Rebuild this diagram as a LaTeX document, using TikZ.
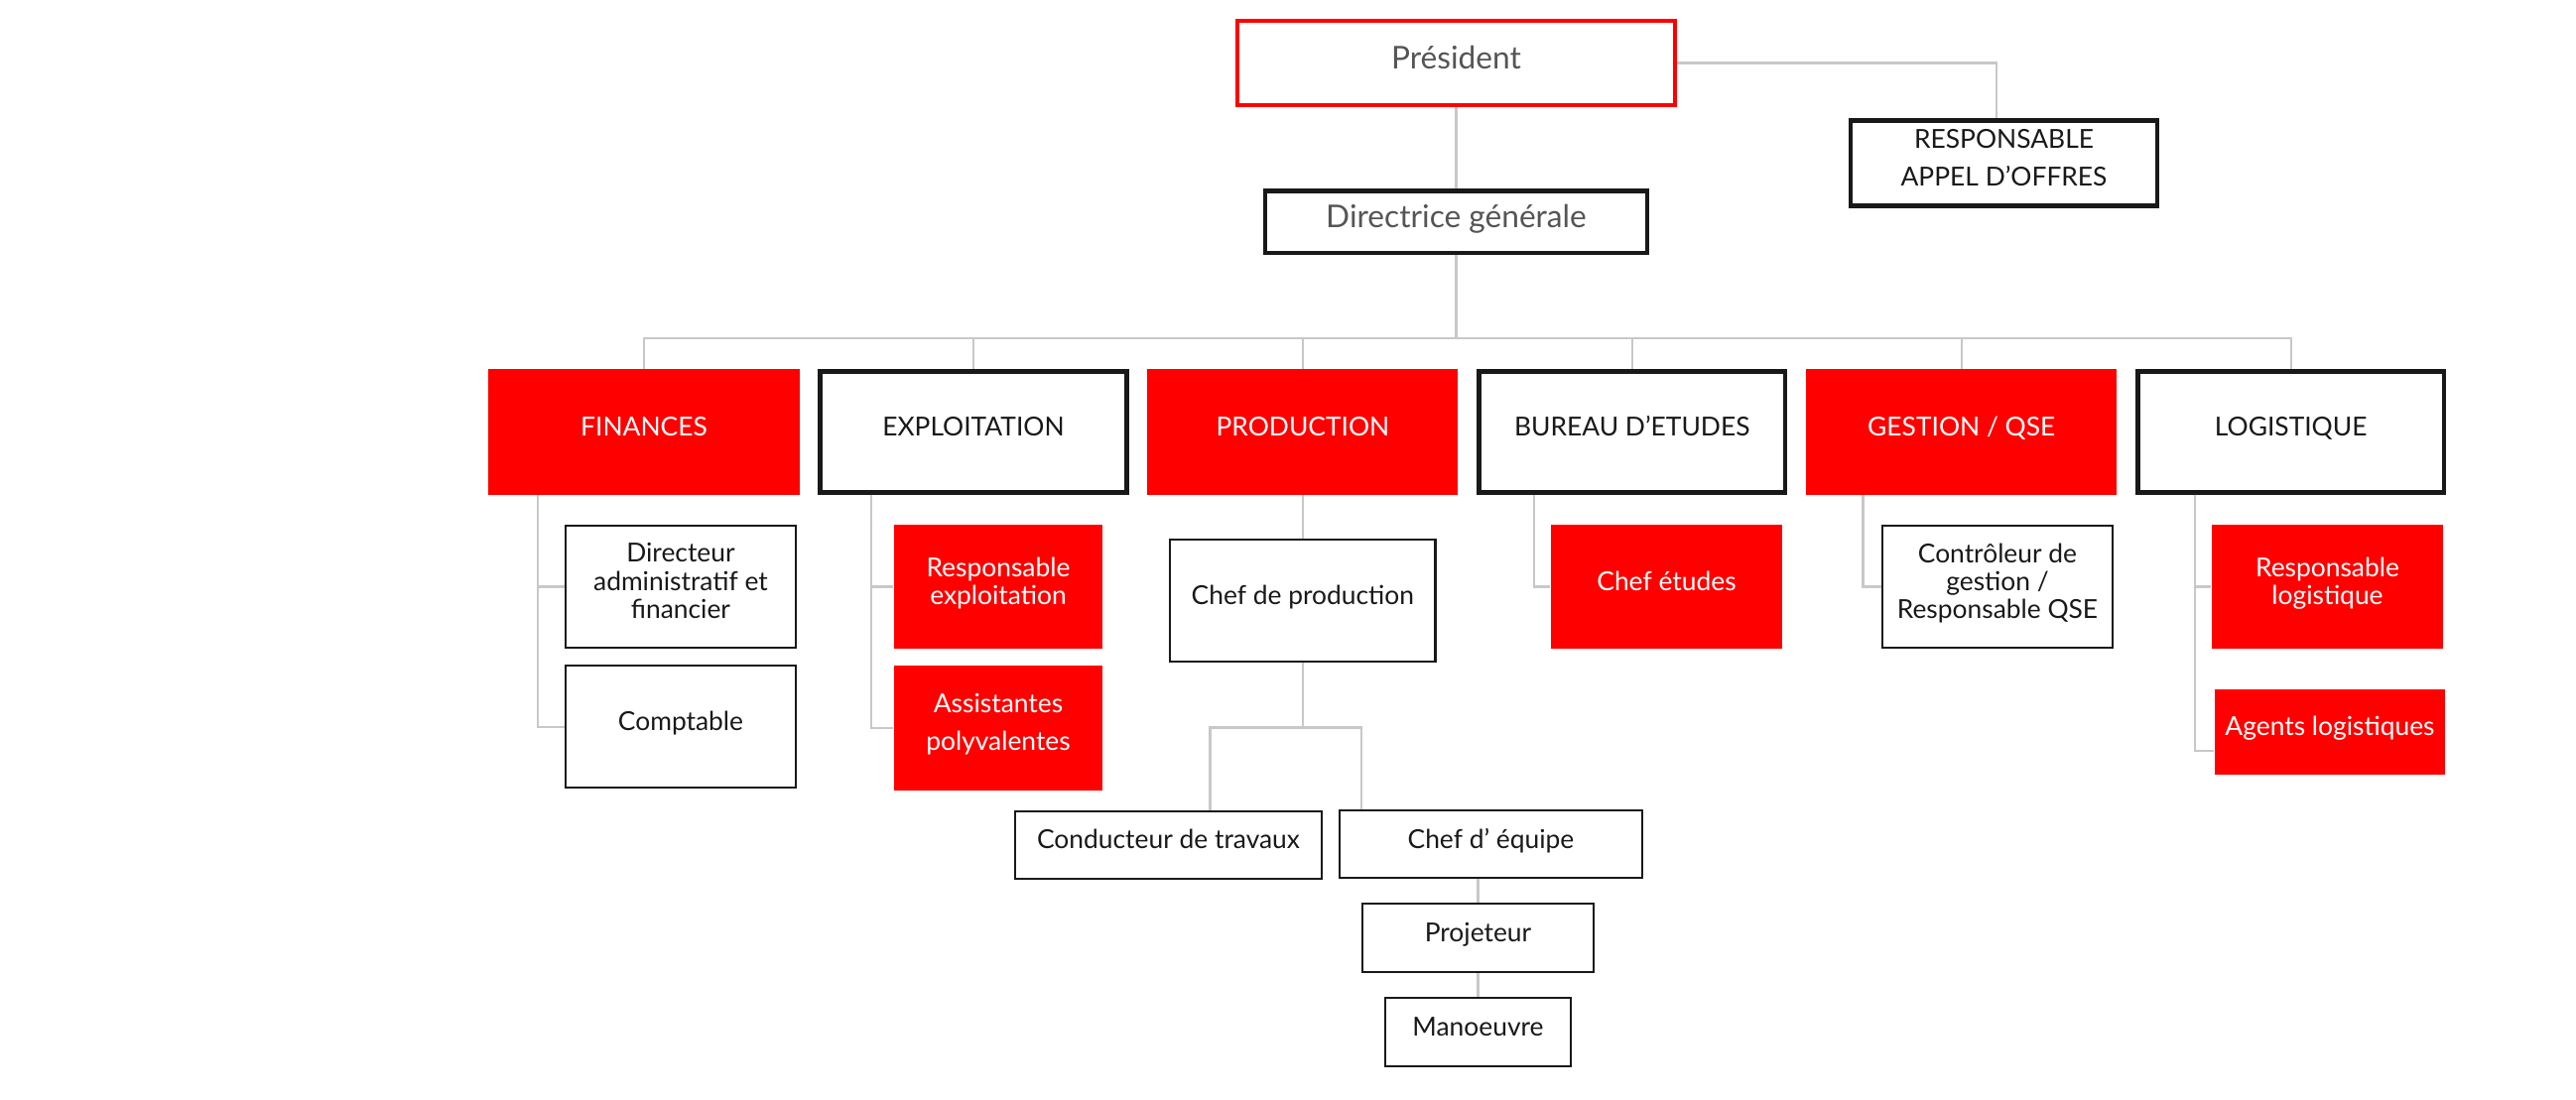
\documentclass[tikz,border=0pt]{standalone}
\usepackage{fontspec}
\setmainfont{Lato}
\usetikzlibrary{positioning}
\definecolor{orgred}{RGB}{255,0,0}
\definecolor{linegray}{RGB}{200,200,200}
\definecolor{textgray}{RGB}{85,85,85}
\definecolor{boxblack}{RGB}{25,25,25}

\begin{document}
\begin{tikzpicture}[x=0.01cm, y=-0.01cm, inner sep=2pt, text depth=0.12cm,
    link/.style={draw=linegray, line width=0.6pt},
    headbox/.style={draw=boxblack, line width=1.3pt, align=center, text=textgray, font=\fontsize{9}{10}\selectfont},
    deptred/.style={fill=orgred, text=white, minimum width=3.13cm, minimum height=1.26cm, font=\fontsize{7.5}{9}\selectfont},
    deptwhite/.style={draw=boxblack, line width=1.3pt, fill=white, text=boxblack, minimum width=3.085cm, minimum height=1.215cm, font=\fontsize{7.5}{9}\selectfont},
    postred/.style={fill=orgred, text=white, align=center, minimum height=1.25cm, font=\fontsize{7.5}{8}\selectfont},
    postwhite/.style={draw=boxblack, line width=0.6pt, text=boxblack, align=center, minimum height=1.23cm, font=\fontsize{7.5}{8}\selectfont}]
  \useasboundingbox (0,0) rectangle (2596,1109);

  % Direction
  \node[headbox, draw=orgred, line width=1.15pt, minimum width=4.41cm, minimum height=0.85cm] (president) at (1467.5,63.5) {Président};
  \node[headbox, minimum width=3.845cm, minimum height=0.625cm, below=0.82cm of president] (directrice) {Directrice générale};
  \node[headbox, text=boxblack, font=\fontsize{7.5}{9}\selectfont, minimum width=3.085cm, minimum height=0.865cm] (appel) at (2019.5,164.5) {RESPONSABLE\\[1.8pt]APPEL D’OFFRES};

  % Services
  \node[deptred] (finances) at (649,435.5) {FINANCES};
  \node[deptwhite, right=0.18cm of finances] (exploitation) {EXPLOITATION};
  \node[deptred, right=0.18cm of exploitation] (production) {PRODUCTION};
  \node[deptwhite, right=0.18cm of production] (bureau) {BUREAU D’ETUDES};
  \node[deptred, right=0.18cm of bureau] (gestion) {GESTION / QSE};
  \node[deptwhite, right=0.18cm of gestion] (logistique) {LOGISTIQUE};

  % Postes
  \node[postwhite, minimum width=2.32cm] (directeur) at (686,591.5) {Directeur\\administratif et\\financier};
  \node[postwhite, minimum width=2.32cm, below=0.16cm of directeur] (comptable) {Comptable};
  \node[postred, minimum width=2.10cm] (respexpl) at (1006,591.5) {Responsable\\exploitation};
  \node[postred, minimum width=2.10cm, below=0.16cm of respexpl] (assistantes) {Assistantes\\[2.8pt]polyvalentes};
  \node[postwhite, minimum width=2.67cm, below=0.44cm of production] (chefprod) {Chef de production};
  \node[postred, minimum width=2.33cm] (chefetudes) at (1679.5,591.5) {Chef études};
  \node[postwhite, minimum width=2.32cm] (controleur) at (2013,591.5) {Contrôleur de\\gestion /\\Responsable QSE};
  \node[postred, minimum width=2.33cm] (resplog) at (2345.5,591.5) {Responsable\\logistique};
  \node[postred, minimum width=2.32cm, minimum height=0.86cm] (agents) at (2348,738) {Agents logistiques};

  % Production
  \node[postwhite, minimum width=3.09cm, minimum height=0.68cm] (conducteur) at (1177.5,852) {Conducteur de travaux};
  \node[postwhite, minimum width=3.05cm, minimum height=0.68cm] (chefequipe) at (1502.5,851) {Chef d’ équipe};
  \node[postwhite, minimum width=2.33cm, minimum height=0.69cm] (projeteur) at (1489.5,945.5) {Projeteur};
  \node[postwhite, minimum width=1.87cm, minimum height=0.69cm, below=0.24cm of projeteur] (manoeuvre) {Manoeuvre};

  % Liaisons
  \coordinate (bus) at (1467.5,341);
  \draw[link] (president.south) -- (directrice.north);
  \draw[link] (president.east) -| ([xshift=-0.075cm]appel.north);
  \draw[link] (directrice.south) -- (bus);
  \draw[link] (bus) -| (finances.north);
  \draw[link] (bus) -| (exploitation.north);
  \draw[link] (bus) -| (production.north);
  \draw[link] (bus) -| (bureau.north);
  \draw[link] (bus) -| (gestion.north);
  \draw[link] (bus) -| (logistique.north);

  \draw[link] ([xshift=0.5cm]finances.south west) |- (directeur.west);
  \draw[link] ([xshift=0.5cm]finances.south west) |- (comptable.west);
  \draw[link] ([xshift=0.54cm]exploitation.south west) |- (respexpl.west);
  \draw[link] ([xshift=0.54cm]exploitation.south west) |- (assistantes.west);
  \draw[link] (production.south) -- (chefprod.north);
  \draw[link] ([xshift=0.58cm]bureau.south west) |- (chefetudes.west);
  \draw[link] ([xshift=0.58cm]gestion.south west) |- (controleur.west);
  \draw[link] ([xshift=0.6cm]logistique.south west) |- (resplog.west);
  \draw[link] ([xshift=0.6cm]logistique.south west) |- ([yshift=-0.19cm]agents.west);

  \coordinate[below=0.65cm of chefprod] (split);
  \draw[link] (chefprod.south) -- (split);
  \draw[link] ([xshift=0.42cm]conducteur.north) |- (split) -| ([xshift=0.23cm]chefequipe.north west);
  \draw[link] (projeteur.north |- chefequipe.south) -- (projeteur.north);
  \draw[link] (projeteur.south) -- (manoeuvre.north);
\end{tikzpicture}
\end{document}
